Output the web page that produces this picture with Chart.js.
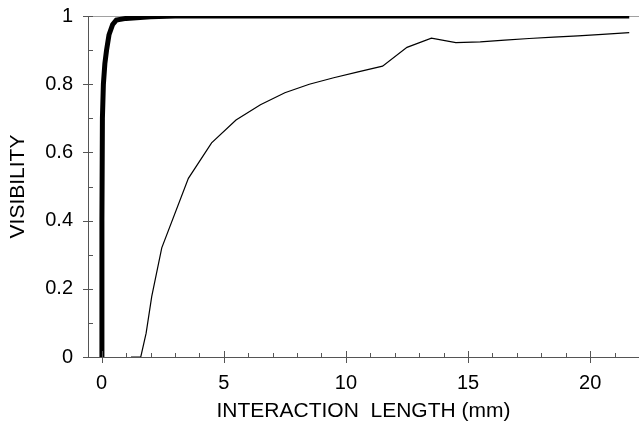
<!DOCTYPE html>
<html lang="en">
<head>
  <meta charset="UTF-8">
  <title>Visibility vs interaction length</title>
  <style>
    html, body {
      margin: 0;
      padding: 0;
      background: #fff;
    }
    #chart {
      display: block;
    }
  </style>
</head>
<body>
  <canvas id="chart" width="639" height="422"></canvas>

  <script src="https://cdn.jsdelivr.net/npm/chart.js"></script>
  <script>
    // measured curve (thin line)
    const measuredX = [1.2, 1.6, 1.82, 2.05, 2.46, 3.55, 4.5, 5.5, 6.5, 7.5, 8.5, 9.5, 10.5, 11.5, 12.5, 13.5, 14.5, 15.5, 16.5, 17.5, 18.5, 19.5, 20.5, 21.6];
    const measuredY = [0, 0, 0.07, 0.178, 0.32, 0.524, 0.628, 0.695, 0.74, 0.775, 0.8, 0.819, 0.836, 0.853, 0.908, 0.935, 0.922, 0.924, 0.929, 0.934, 0.938, 0.942, 0.946, 0.951];

    // computed curve (thick line)
    const modelX = [0, 0.01, 0.03, 0.07, 0.13, 0.2, 0.3, 0.45, 0.6, 1.0, 2.0, 3, 5, 10, 15, 20, 21.6];
    const modelY = [0, 0.4, 0.7, 0.8, 0.86, 0.9, 0.945, 0.975, 0.988, 0.993, 0.998, 1, 1, 1, 1, 1, 1];

    // unit level
    const unitX = [-0.56, 22];
    const unitY = [1, 1];

    const xMajor = [0, 5, 10, 15, 20];
    const yMajor = [0, 0.2, 0.4, 0.6, 0.8, 1];

    const toPoints = (xs, ys) => xs.map((x, i) => ({ x: x, y: ys[i] }));

    const axisColor = '#555';
    const family = '"Liberation Sans", Arial, sans-serif';
    const tickFont = { family: family, size: 20 };
    const titleFont = { family: family, size: 21, lineHeight: 1 };

    // draws major ticks across the axis and minor ticks inside
    const tickMarks = {
      id: 'tickMarks',
      afterDraw(chart) {
        const ctx = chart.ctx;
        const xs = chart.scales.x;
        const ys = chart.scales.y;
        const area = chart.chartArea;
        ctx.save();
        ctx.strokeStyle = axisColor;
        ctx.lineWidth = 1;
        ctx.beginPath();
        for (let v = 0; v <= 22; v++) {
          const px = Math.round(xs.getPixelForValue(v)) + 0.5;
          if (v % 5 === 0) {
            ctx.moveTo(px, area.bottom + 6);
            ctx.lineTo(px, area.bottom - 6);
          } else {
            ctx.moveTo(px, area.bottom);
            ctx.lineTo(px, area.bottom - 4);
          }
        }
        for (let k = 0; k <= 10; k++) {
          const py = Math.round(ys.getPixelForValue(k / 10)) + 0.5;
          if (k % 2 === 0) {
            ctx.moveTo(area.left - 5, py);
            ctx.lineTo(area.left + 5, py);
          } else {
            ctx.moveTo(area.left, py);
            ctx.lineTo(area.left + 5, py);
          }
        }
        ctx.stroke();
        ctx.restore();
      }
    };

    const ctx = document.getElementById('chart').getContext('2d');
    new Chart(ctx, {
      type: 'line',
      data: {
        datasets: [
          {
            label: 'model',
            data: toPoints(modelX, modelY),
            borderColor: '#000',
            borderWidth: 5,
            pointRadius: 0,
            tension: 0,
            order: 0
          },
          {
            label: 'measured',
            data: toPoints(measuredX, measuredY),
            borderColor: '#000',
            borderWidth: 1.2,
            pointRadius: 0,
            tension: 0,
            order: 1
          },
          {
            label: 'unit',
            data: toPoints(unitX, unitY),
            borderColor: '#444',
            borderWidth: 1,
            pointRadius: 0,
            order: 2
          }
        ]
      },
      options: {
        responsive: false,
        animation: false,
        devicePixelRatio: 1,
        layout: { padding: { top: 16, right: 0, bottom: 0, left: 0 } },
        plugins: {
          legend: { display: false },
          tooltip: { enabled: false }
        },
        scales: {
          x: {
            type: 'linear',
            min: -0.56,
            max: 22,
            afterBuildTicks: (scale) => { scale.ticks = xMajor.map(v => ({ value: v })); },
            afterFit: (scale) => {
              scale.height = 65;
              scale.paddingLeft = 0;
              scale.paddingRight = 0;
            },
            grid: { display: false, drawTicks: false },
            border: { display: true, color: axisColor, width: 1 },
            ticks: {
              color: '#000',
              font: tickFont,
              padding: 14,
              maxRotation: 0,
              callback: (v) => String(v)
            },
            title: {
              display: true,
              text: 'INTERACTION  LENGTH (mm)',
              color: '#000',
              font: titleFont,
              padding: { top: 0, bottom: 0 }
            }
          },
          y: {
            type: 'linear',
            min: 0,
            max: 1,
            afterBuildTicks: (scale) => { scale.ticks = yMajor.map(v => ({ value: v })); },
            afterFit: (scale) => {
              scale.width = 88;
              scale.paddingTop = 0;
              scale.paddingBottom = 0;
            },
            grid: { display: false, drawTicks: false },
            border: { display: true, color: axisColor, width: 1 },
            ticks: {
              color: '#000',
              font: tickFont,
              padding: 15,
              callback: (v) => String(Math.round(v * 10) / 10)
            },
            title: {
              display: true,
              text: 'VISIBILITY',
              color: '#000',
              font: titleFont,
              padding: { top: 8, bottom: 0 }
            }
          }
        }
      },
      plugins: [tickMarks]
    });
  </script>
</body>
</html>
